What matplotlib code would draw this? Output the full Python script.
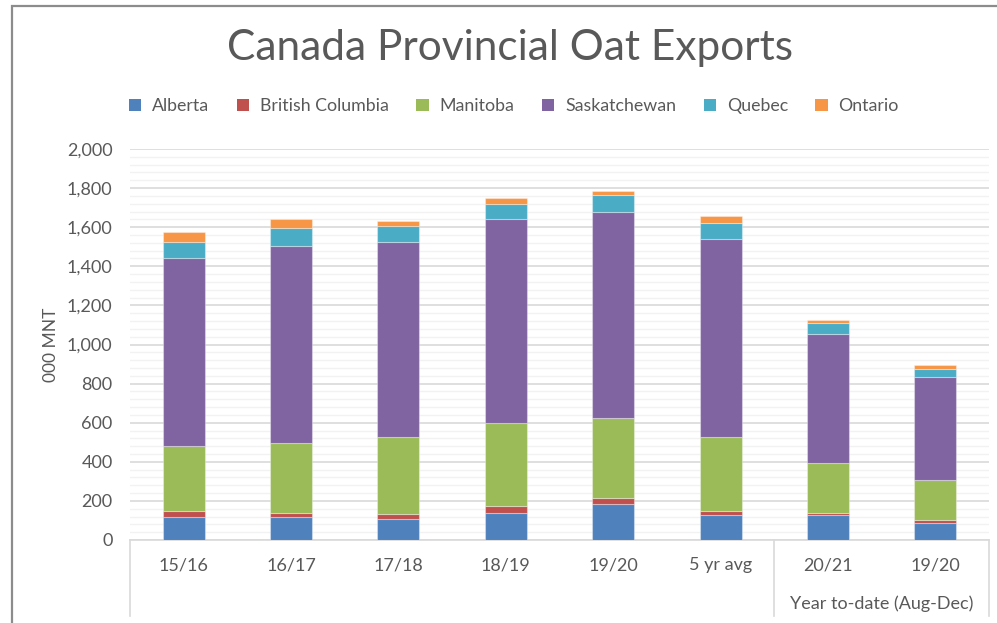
"""Canada provincial oat exports, stacked bars by province (000 MNT)."""
import matplotlib
matplotlib.use("Agg")
import matplotlib.pyplot as plt
from matplotlib.patches import Patch, Rectangle
from matplotlib.ticker import MultipleLocator, FuncFormatter

plt.rcParams["font.family"] = ["Lato", "DejaVu Sans"]

categories = ["15/16", "16/17", "17/18", "18/19", "19/20", "5 yr avg", "20/21", "19/20"]
provinces = ["Alberta", "British Columbia", "Manitoba", "Saskatchewan", "Quebec", "Ontario"]

alberta = [119, 119, 109, 140, 184, 126, 126, 85]
british_columbia = [31, 21, 26, 35, 32, 24, 14, 17]
manitoba = [332, 358, 390, 422, 406, 375, 252, 207]
saskatchewan = [959, 1007, 998, 1043, 1057, 1016, 660, 526]
quebec = [82, 93, 85, 80, 86, 82, 58, 41]
ontario = [52, 42, 24, 29, 22, 34, 17, 17]

colors = ["#4F81BD", "#C0504D", "#9BBB59", "#8064A2", "#4BACC6", "#F79646"]
text_col = "#595959"
grid_major = "#D9D9D9"
grid_minor = "#F2F2F2"

fig = plt.figure(figsize=(9.97, 6.23), dpi=100)
ax = fig.add_axes([130 / 997, 83 / 623, 859 / 997, 391 / 623])

series = [alberta, british_columbia, manitoba, saskatchewan, quebec, ontario]
x = list(range(len(categories)))
bottom = [0] * len(categories)
for vals, col in zip(series, colors):
    ax.bar(x, vals, width=0.39, bottom=bottom, color=col,
           edgecolor=(1, 1, 1, 0.35), linewidth=0.8, zorder=3)
    bottom = [b + v for b, v in zip(bottom, vals)]

ax.set_xlim(-0.5, len(categories) - 0.5)
ax.set_ylim(0, 2000)
ax.yaxis.set_major_locator(MultipleLocator(200))
ax.yaxis.set_minor_locator(MultipleLocator(40))
ax.yaxis.set_major_formatter(FuncFormatter(lambda v, _: f"{int(v):,}"))
ax.grid(which="major", axis="y", color=grid_major, linewidth=1.2, zorder=0)
ax.grid(which="minor", axis="y", color=grid_minor, linewidth=1.0, zorder=0)
ax.tick_params(axis="y", which="both", length=0, labelsize=13,
               labelcolor=text_col, pad=12.5)
ax.set_xticks([])
for s in ["top", "right", "left"]:
    ax.spines[s].set_visible(False)
ax.spines["bottom"].set_color(grid_major)
ax.spines["bottom"].set_linewidth(1.2)

ax.set_ylabel("000 MNT", fontsize=12.5, color=text_col, labelpad=6)

# multi-level category axis
trans = ax.get_xaxis_transform()
for xv in [-0.5, 5.5, len(categories) - 0.5]:
    ax.plot([xv, xv], [0, -0.195], transform=trans, color=grid_major,
            linewidth=1.2, clip_on=False)
for xi, lab in zip(x, categories):
    ax.text(xi, -0.064, lab, transform=trans, ha="center", va="center",
            fontsize=13, color=text_col)
ax.text(6.5, -0.164, "Year to-date (Aug-Dec)", transform=trans,
        ha="center", va="center", fontsize=13, color=text_col)

fig.text(510 / 997, 1 - 48 / 623, "Canada Provincial Oat Exports", ha="center",
         va="center", fontsize=30.5, color=text_col)

handles = [Patch(facecolor=c, edgecolor="none") for c in colors]
fig.legend(handles, provinces, loc="center", bbox_to_anchor=(514 / 997, 1 - 106 / 623),
           ncol=6, frameon=False, fontsize=12.8, labelcolor=text_col,
           handlelength=0.7, handleheight=0.7, handletextpad=0.6,
           columnspacing=1.55)

# outer chart frame
fig.patches.append(Rectangle((12 / 997, -0.1), 1.2, 1 - 6 / 623 + 0.1,
                             transform=fig.transFigure, fill=False,
                             edgecolor="#8C8C8C", linewidth=1.6))

fig.savefig("out.png", dpi=100)
